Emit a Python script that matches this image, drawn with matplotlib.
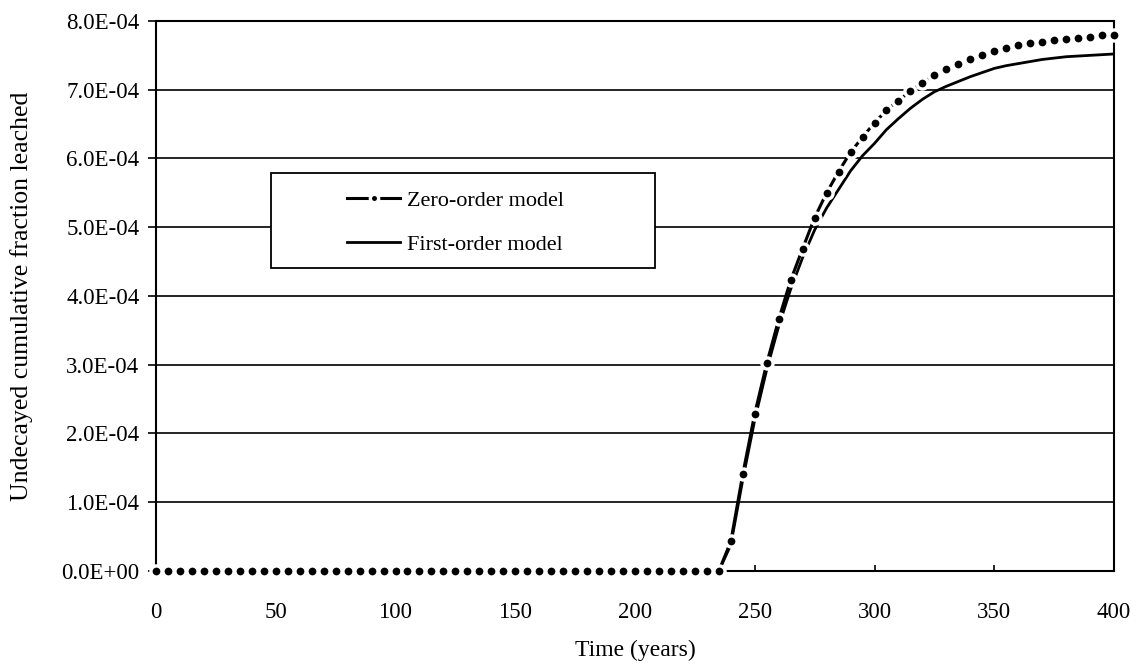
import numpy as np
import matplotlib
matplotlib.use("Agg")
import matplotlib.pyplot as plt
from matplotlib.patches import Rectangle
from matplotlib.ticker import FuncFormatter, MultipleLocator

plt.rcParams['font.family'] = ['Liberation Serif', 'DejaVu Serif']

# time axis, one point every 5 years
years = list(range(0, 405, 5))

# undecayed cumulative fraction leached, in units of 1e-4
zero_order = [
    0, 0, 0, 0, 0, 0, 0, 0, 0, 0,
    0, 0, 0, 0, 0, 0, 0, 0, 0, 0,
    0, 0, 0, 0, 0, 0, 0, 0, 0, 0,
    0, 0, 0, 0, 0, 0, 0, 0, 0, 0,
    0, 0, 0, 0, 0, 0, 0, 0,
    0.43, 1.41, 2.29, 3.02, 3.66, 4.23, 4.69, 5.14, 5.50, 5.81,
    6.09, 6.31, 6.52, 6.70, 6.84, 6.98, 7.10, 7.21, 7.30, 7.38,
    7.45, 7.51, 7.56, 7.61, 7.65, 7.68, 7.70, 7.72, 7.74, 7.75,
    7.77, 7.79, 7.80,
]
first_order = [
    0, 0, 0, 0, 0, 0, 0, 0, 0, 0,
    0, 0, 0, 0, 0, 0, 0, 0, 0, 0,
    0, 0, 0, 0, 0, 0, 0, 0, 0, 0,
    0, 0, 0, 0, 0, 0, 0, 0, 0, 0,
    0, 0, 0, 0, 0, 0, 0, 0,
    0.38, 1.33, 2.20, 2.93, 3.56, 4.10, 4.56, 4.96, 5.28, 5.55,
    5.82, 6.04, 6.22, 6.42, 6.58, 6.73, 6.86, 6.97, 7.05, 7.12,
    7.19, 7.25, 7.31, 7.35, 7.38, 7.41, 7.44, 7.46, 7.48, 7.49,
    7.50, 7.51, 7.52,
]

x = np.array(years)
z = np.array(zero_order) * 1e-4
f = np.array(first_order) * 1e-4

fig = plt.figure(figsize=(11.42, 6.68), dpi=100)
ax = fig.add_axes([0.1366, 0.1452, 0.8389, 0.8234])

ax.plot(x, f, color='black', lw=2.0, zorder=2.6, label='First-order model')
ax.plot(x, z, color='black', lw=2.2, marker='o', markersize=8,
        markerfacecolor='black', markeredgecolor='white', markeredgewidth=2.4,
        zorder=3, clip_on=False, label='Zero-order model')

ax.set_xlim(0, 400)
ax.set_ylim(0, 8e-4)
ax.xaxis.set_major_locator(MultipleLocator(50))
ax.yaxis.set_major_locator(MultipleLocator(1e-4))
ax.yaxis.set_major_formatter(FuncFormatter(lambda v, p: "%.1E" % v))
ax.grid(axis='y', color='black', lw=1.2)
ax.set_axisbelow(True)

for s in ax.spines.values():
    s.set_linewidth(1.5)
    s.set_color('black')

ax.tick_params(axis='y', direction='out', length=6, width=1.2, pad=6,
               labelsize=16.5)
ax.tick_params(axis='x', direction='in', length=4, width=1.2, pad=22,
               labelsize=16.5)

ax.set_xlabel('Time (years)', fontsize=17)
ax.set_ylabel('Undecayed cumulative fraction leached', fontsize=18.5)
ax.xaxis.set_label_coords(0.5, -0.144)
ax.xaxis.label.set_va('center')
ax.yaxis.set_label_coords(-0.140, 0.5)
ax.yaxis.label.set_va('center')

# legend box drawn as a plain rectangle, entries placed inside it
box = Rectangle((0.120, 0.551), 0.401, 0.173, transform=ax.transAxes,
                facecolor='white', edgecolor='black', lw=1.3, zorder=4)
ax.add_patch(box)
h, l = ax.get_legend_handles_labels()
leg = ax.legend(h[::-1], l[::-1], loc='upper left',
                bbox_to_anchor=(0.1994, 0.692), frameon=False, fontsize=16,
                borderpad=0, borderaxespad=0, handlelength=2.4,
                handletextpad=0.3, labelspacing=1.05, numpoints=1,
                markerscale=0.75)
leg.set_zorder(5)

fig.savefig('out.png', dpi=100)
